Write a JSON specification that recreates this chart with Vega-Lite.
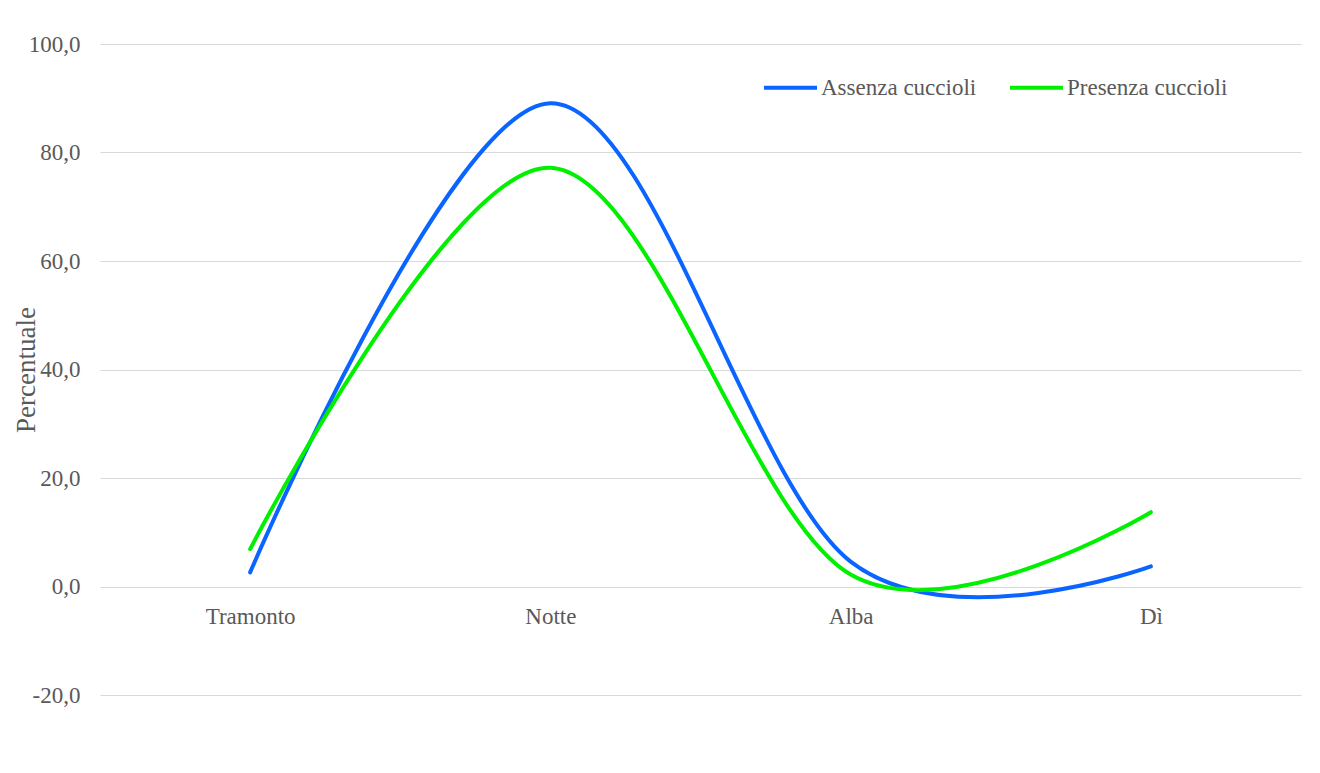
{
  "$schema": "https://vega.github.io/schema/vega-lite/v6.json",
  "autosize": "none",
  "width": 1201,
  "height": 651,
  "padding": {"left": 100, "top": 44, "right": 19, "bottom": 78},
  "background": "white",
  "config": {
    "view": {"stroke": null},
    "font": "Liberation Serif",
    "locale": {
      "number": {"decimal": ",", "thousands": ".", "grouping": [3], "currency": ["", " €"], "minus": "-"}
    }
  },
  "data": {
    "values": [
      {"fase": "Tramonto", "gruppo": "Assenza cuccioli", "percentuale": 2.6},
      {"fase": "Notte", "gruppo": "Assenza cuccioli", "percentuale": 89.1},
      {"fase": "Alba", "gruppo": "Assenza cuccioli", "percentuale": 4.6},
      {"fase": "Dì", "gruppo": "Assenza cuccioli", "percentuale": 3.7},
      {"fase": "Tramonto", "gruppo": "Presenza cuccioli", "percentuale": 6.9},
      {"fase": "Notte", "gruppo": "Presenza cuccioli", "percentuale": 77.2},
      {"fase": "Alba", "gruppo": "Presenza cuccioli", "percentuale": 2.2},
      {"fase": "Dì", "gruppo": "Presenza cuccioli", "percentuale": 13.7}
    ]
  },
  "mark": {"type": "line", "interpolate": "cardinal", "strokeWidth": 4, "strokeCap": "round"},
  "encoding": {
    "x": {
      "field": "fase",
      "type": "nominal",
      "sort": ["Tramonto", "Notte", "Alba", "Dì"],
      "scale": {"type": "point", "padding": 0.5},
      "axis": {
        "title": null,
        "offset": -108.5,
        "domain": false,
        "ticks": false,
        "tickSize": 0,
        "grid": false,
        "labelAngle": 0,
        "labelFont": "Liberation Serif",
        "labelFontSize": 23,
        "labelColor": "#595959",
        "labelBaseline": "alphabetic",
        "labelPadding": 37
      }
    },
    "y": {
      "field": "percentuale",
      "type": "quantitative",
      "scale": {"domain": [-20, 100], "nice": false, "zero": false},
      "axis": {
        "title": "Percentuale",
        "values": [-20, 0, 20, 40, 60, 80, 100],
        "format": ".1f",
        "domain": false,
        "ticks": false,
        "tickSize": 0,
        "grid": true,
        "gridColor": "#d9d9d9",
        "gridWidth": 1,
        "labelFont": "Liberation Serif",
        "labelFontSize": 23,
        "labelColor": "#595959",
        "labelPadding": 20,
        "titleFont": "Liberation Serif",
        "titleFontSize": 27,
        "titleFontWeight": "normal",
        "titleColor": "#595959",
        "titleAngle": 270,
        "titleAlign": "center",
        "titleBaseline": "alphabetic",
        "titleX": -66,
        "titleY": 325.5
      }
    },
    "color": {
      "field": "gruppo",
      "type": "nominal",
      "scale": {
        "domain": ["Assenza cuccioli", "Presenza cuccioli"],
        "range": ["#0A64FF", "#00F000"]
      },
      "legend": {
        "title": null,
        "orient": "none",
        "direction": "horizontal",
        "legendX": 662,
        "legendY": 15,
        "padding": 0,
        "symbolType": "stroke",
        "symbolSize": 2809,
        "symbolStrokeWidth": 4,
        "labelFont": "Liberation Serif",
        "labelFontSize": 23,
        "labelColor": "#595959",
        "labelLimit": 0,
        "labelOffset": 2,
        "columnPadding": 25
      }
    }
  }
}
